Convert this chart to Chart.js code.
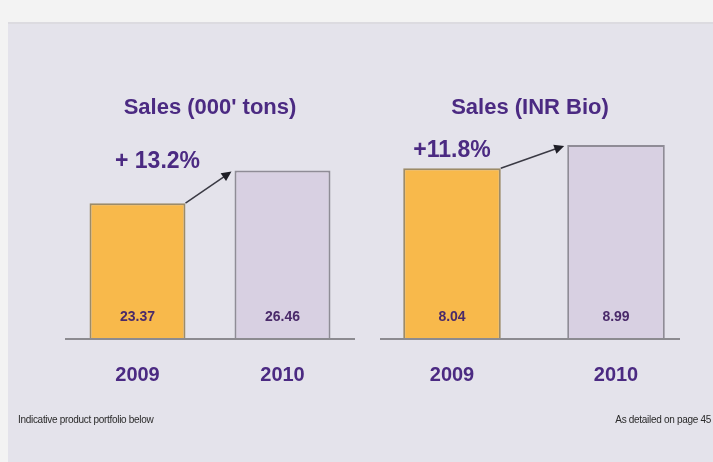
<!DOCTYPE html>
<html>
<head>
<meta charset="utf-8">
<script src="https://cdn.jsdelivr.net/npm/chart.js@4.4.1/dist/chart.umd.min.js"></script>
<style>
    body {
        margin: 0;
        width: 713px;
        height: 462px;
        background: #f3f3f3;
        overflow: hidden;
        position: relative;
        font-family: 'Liberation Sans', Arial, sans-serif;
    }
    .panel {
        position: absolute;
        left: 8px;
        top: 22px;
        right: 0;
        bottom: 0;
        background: #e4e3eb;
        border-top: 2px solid #dcdbe0;
    }
    .box {
        position: absolute;
        top: 60px;
        height: 364px;
    }
    #leftBox { left: 65px; width: 290px; }
    #rightBox { left: 370px; width: 328px; }
    .note {
        position: absolute;
        top: 414px;
        font-size: 10px;
        color: #2a2a2a;
        letter-spacing: -0.3px;
    }
</style>
</head>
<body>
<div class="panel"></div>
<div class="box" id="leftBox"><canvas id="tonsChart"></canvas></div>
<div class="box" id="rightBox"><canvas id="inrChart"></canvas></div>
<div class="note" style="left:18px;">Indicative product portfolio below</div>
<div class="note" style="right:2px;">As detailed on page 45</div>

<script>
// ========================
// Data
// ========================
const years = ['2009', '2010'];
const tonsSales = [23.37, 26.46];
const inrSales = [8.04, 8.99];
const tonsGrowth = '+ 13.2%';
const inrGrowth = '+11.8%';

const purple = '#4b2a82';
const barFill = ['#f8b94b', '#d8d0e2'];
const barBorder = ['#9c8b68', '#8f8c96'];

// Title, growth label + arrow, value labels, baseline
const decorPlugin = {
    id: 'decor',
    afterDatasetsDraw(chart, args, opts) {
        const ctx = chart.ctx;
        const area = chart.chartArea;
        const bars = chart.getDatasetMeta(0).data;
        const ds = chart.data.datasets[0];

        ctx.save();

        // baseline
        ctx.strokeStyle = '#8c8b90';
        ctx.lineWidth = 2;
        ctx.beginPath();
        ctx.moveTo(area.left + opts.lineFrom, area.bottom);
        ctx.lineTo(area.right + opts.lineTo, area.bottom);
        ctx.stroke();

        // title
        ctx.fillStyle = purple;
        ctx.textAlign = 'center';
        ctx.textBaseline = 'middle';
        ctx.font = "bold 22px 'Liberation Sans', Arial, sans-serif";
        ctx.fillText(opts.title, (area.left + area.right) / 2 + opts.titleShift, 48);

        // values inside bars
        ctx.font = "bold 14px 'Liberation Sans', Arial, sans-serif";
        ctx.fillStyle = '#4a2a6a';
        bars.forEach((bar, i) => {
            ctx.fillText(ds.data[i].toFixed(2), bar.x, area.bottom - 22);
        });

        // growth label
        const a = bars[0], b = bars[1];
        ctx.font = "bold 23px 'Liberation Sans', Arial, sans-serif";
        ctx.fillStyle = purple;
        ctx.fillText(opts.growth, a.x + opts.growthDx, a.y + opts.growthDy);

        // arrow from first bar top-right to second bar top-left
        const x1 = a.x + a.width / 2, y1 = a.y;
        const x2 = b.x - b.width / 2 - 3, y2 = b.y + 1;
        const ang = Math.atan2(y2 - y1, x2 - x1);
        ctx.strokeStyle = '#3a3a44';
        ctx.lineWidth = 1.5;
        ctx.beginPath();
        ctx.moveTo(x1, y1);
        ctx.lineTo(x2 - 8 * Math.cos(ang), y2 - 8 * Math.sin(ang));
        ctx.stroke();
        ctx.fillStyle = '#1e1e26';
        ctx.beginPath();
        ctx.moveTo(x2, y2);
        ctx.lineTo(x2 - 11 * Math.cos(ang - 0.45), y2 - 11 * Math.sin(ang - 0.45));
        ctx.lineTo(x2 - 11 * Math.cos(ang + 0.45), y2 - 11 * Math.sin(ang + 0.45));
        ctx.closePath();
        ctx.fill();

        ctx.restore();
    }
};

function makeChart(id, values, yMin, yMax, barPct, decor) {
    return new Chart(document.getElementById(id), {
        type: 'bar',
        data: {
            labels: years,
            datasets: [{
                data: values,
                backgroundColor: barFill,
                borderColor: barBorder,
                borderWidth: 2,
                categoryPercentage: 1,
                barPercentage: barPct
            }]
        },
        options: {
            responsive: true,
            maintainAspectRatio: false,
            animation: false,
            layout: { padding: { top: 0, bottom: 13, left: 0, right: 0 } },
            plugins: {
                legend: { display: false },
                tooltip: { enabled: false },
                decor: decor
            },
            scales: {
                x: {
                    grid: { display: false, drawTicks: false },
                    border: { display: false },
                    ticks: {
                        padding: 24,
                        color: purple,
                        font: { size: 20, weight: 'bold', family: "'Liberation Sans', Arial, sans-serif" }
                    }
                },
                y: {
                    display: false,
                    min: yMin,
                    max: yMax
                }
            }
        },
        plugins: [decorPlugin]
    });
}

makeChart('tonsChart', tonsSales, 10.48, 36.95, 0.662, {
    title: "Sales (000' tons)", titleShift: 0,
    growth: tonsGrowth, growthDx: 20, growthDy: -41,
    lineFrom: -5, lineTo: 3
});

makeChart('inrChart', inrSales, 1.06, 12.46, 0.595, {
    title: 'Sales (INR Bio)', titleShift: -4,
    growth: inrGrowth, growthDx: 0, growthDy: -18,
    lineFrom: 10, lineTo: -18
});
</script>
</body>
</html>
